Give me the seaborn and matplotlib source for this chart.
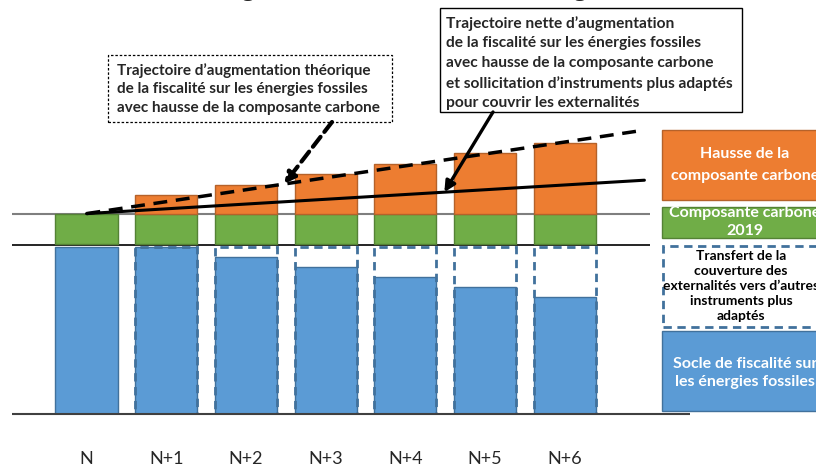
import matplotlib
matplotlib.use("Agg")
import matplotlib.pyplot as plt
import seaborn as sns
from matplotlib.patches import Rectangle

# ---- data -------------------------------------------------------------
periods = ["N", "N+1", "N+2", "N+3", "N+4", "N+5", "N+6"]
socle_2019 = 100                                   # initial fossil-energy tax base
socle = [100, 100, 94, 88, 82, 76, 70]             # remaining tax base
transfert = [0, 0, 6, 12, 18, 24, 30]              # shifted to other instruments
composante_2019 = [18.5, 18.5, 18.5, 18.5, 18.5, 18.5, 18.5]
hausse = [0, 11, 17, 24, 30, 36, 42]               # carbon component increase
traj_pos = [0, 7]
traj_theorique = [120, 170]
traj_nette = [120, 140]

# ---- style ------------------------------------------------------------
sns.set_theme(style="white")
plt.rcParams["font.family"] = ["Lato", "DejaVu Sans"]

ORANGE, ORANGE_E = "#ED7D31", "#B5622A"
GREEN, GREEN_E = "#70AD47", "#548235"
BLUE, BLUE_E = "#5B9BD5", "#41719C"

W, H = 816, 466
fig = plt.figure(figsize=(W / 100, H / 100), dpi=100)
base_px, px_per_unit = 414, 1.67
ax = fig.add_axes([0, (H - base_px) / H, 1, base_px / H])

bar_w = 0.78
sns.barplot(x=periods, y=socle, color=BLUE, saturation=1, width=bar_w,
            edgecolor=BLUE_E, linewidth=1, ax=ax, zorder=3)

pos = list(range(len(periods)))
gap = 1.5
green_bottom = [s + t + gap for s, t in zip(socle, transfert)]
ax.bar(pos, composante_2019, bottom=green_bottom, width=bar_w, color=GREEN,
       edgecolor=GREEN_E, linewidth=1, zorder=3)
orange_bottom = [g + c for g, c in zip(green_bottom, composante_2019)]
ax.bar(pos[1:], hausse[1:], bottom=orange_bottom[1:], width=bar_w,
       color=ORANGE, edgecolor=ORANGE_E, linewidth=1, zorder=3)

# dashed outline: tax base before transfer to other instruments
box_h = [s + t for s, t in zip(socle, transfert)]
ax.bar(pos[1:], box_h[1:], width=bar_w, fill=False, edgecolor=BLUE_E,
       linestyle=(0, (3, 2)), linewidth=2, zorder=4)

ax.set_xlim(-86.5 / 79.7, (W - 86.5) / 79.7)
ax.set_ylim(0, base_px / px_per_unit)

x_left = (12 - 86.5) / 79.7
x_right = (650 - 86.5) / 79.7
ax.hlines(socle_2019 + composante_2019[0] + gap, x_left, x_right,
          color="#7F7F7F", lw=1.5, zorder=2)
ax.hlines(socle_2019 + 1, x_left, x_right, color="black", lw=1.2, zorder=2)
ax.hlines(0, x_left, (690 - 86.5) / 79.7, color="#404040", lw=1.5,
          zorder=5, clip_on=False)

# trajectories
ax.plot(traj_pos, traj_theorique, color="black", lw=2.5,
        linestyle=(0, (4, 2.5)), zorder=6)
ax.plot(traj_pos, traj_nette, color="black", lw=2.2, zorder=6)

sns.despine(ax=ax, left=True, bottom=True)
ax.set_yticks([])
ax.set_xlabel("")
ax.tick_params(axis="x", length=0, pad=27, labelsize=13)


def fxy(px, py):
    return px / W, 1 - py / H


def box(x0, y0, x1, y1, **kw):
    fig.add_artist(Rectangle(fxy(x0, y1), (x1 - x0) / W, (y1 - y0) / H,
                             transform=fig.transFigure, clip_on=False, **kw))


# annotation boxes
box(108, 55, 392, 122, fill=False, edgecolor="black", lw=0.9,
    linestyle=(0, (2, 1.5)))
fig.text(*fxy(117, 89), "Trajectoire d\u2019augmentation théorique\n"
         "de la fiscalité sur les énergies fossiles\n"
         "avec hausse de la composante carbone",
         ha="left", va="center", fontsize=11, fontweight="bold",
         linespacing=1.38)

box(440, 8, 742, 112, fill=False, edgecolor="black", lw=1)
fig.text(*fxy(446, 63), "Trajectoire nette d\u2019augmentation\n"
         "de la fiscalité sur les énergies fossiles\n"
         "avec hausse de la composante carbone\n"
         "et sollicitation d\u2019instruments plus adaptés\n"
         "pour couvrir les externalités",
         ha="left", va="center", fontsize=11.2, fontweight="bold",
         linespacing=1.5)

# arrows from the boxes to the trajectories
tip1 = 2.48
y1 = traj_theorique[0] + (traj_theorique[1] - traj_theorique[0]) * tip1 / traj_pos[1]
ax.annotate("", xy=(tip1, y1), xytext=(332, H - 122), textcoords="figure pixels",
            arrowprops=dict(arrowstyle="-|>", lw=3, color="black",
                            linestyle=(0, (3, 1.5)), mutation_scale=16,
                            shrinkA=0, shrinkB=0), zorder=7)
tip2 = 4.49
y2 = traj_nette[0] + (traj_nette[1] - traj_nette[0]) * tip2 / traj_pos[1]
ax.annotate("", xy=(tip2, y2), xytext=(493, H - 112), textcoords="figure pixels",
            arrowprops=dict(arrowstyle="-|>", lw=2.4, color="black",
                            mutation_scale=16, shrinkA=0, shrinkB=0), zorder=7)

# legend blocks
box(662, 130, 840, 200, facecolor=ORANGE, edgecolor=ORANGE_E, lw=1)
fig.text(*fxy(745, 165), "Hausse de la\ncomposante carbone", color="white",
         ha="center", va="center", fontsize=11.5, fontweight="bold",
         linespacing=1.65)
box(662, 207, 840, 238, facecolor=GREEN, edgecolor=GREEN_E, lw=1)
fig.text(*fxy(745, 222), "Composante carbone\n2019", color="white",
         ha="center", va="center", fontsize=11.5, fontweight="bold",
         linespacing=1.4)
box(663, 246, 840, 327, fill=False, edgecolor=BLUE_E, lw=2,
    linestyle=(0, (3, 2)))
fig.text(*fxy(741, 286), "Transfert de la\ncouverture des\n"
         "externalités vers d\u2019autres\ninstruments plus\nadaptés",
         color="black", ha="center", va="center", fontsize=10,
         fontweight="bold", linespacing=1.3)
box(662, 331, 840, 411, facecolor=BLUE, edgecolor=BLUE_E, lw=1)
fig.text(*fxy(745, 373), "Socle de fiscalité sur\nles énergies fossiles",
         color="white", ha="center", va="center", fontsize=11.5,
         fontweight="bold", linespacing=1.4)

# chart title (top edge of the page)
fig.text(*fxy(430, -4), "Aménagement de la fiscalité sur les énergies fossiles",
         ha="center", va="baseline", fontsize=17, fontweight="bold",
         family="Liberation Serif")

fig.savefig("out.png", dpi=100)
